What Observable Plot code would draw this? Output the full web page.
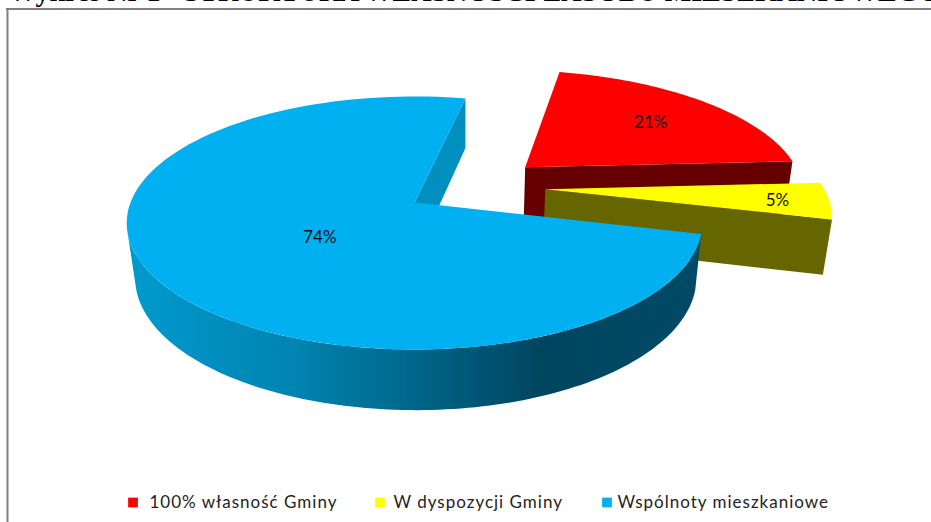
<!DOCTYPE html>
<html lang="pl">
<head>
<meta charset="utf-8">
<style>
html,body{margin:0;padding:0;background:#fff;overflow:hidden}
.legendText text{letter-spacing:1px}
</style>
<script src="https://cdn.jsdelivr.net/npm/d3@7"></script>
<script src="https://cdn.jsdelivr.net/npm/@observablehq/plot@0.6"></script>
</head>
<body>
<div id="chart"></div>
<script>
const categories = ["100% własność Gminy", "W dyspozycji Gminy", "Wspólnoty mieszkaniowe"];
const shares = [20.8, 4.8, 74.4];
const valueLabels = ["21%", "5%", "74%"];
const topColors = ["#FF0000", "#FFFF00", "#00B0F0"];
const wallColors = ["#660000", "#666600", "#0090C0"];
const titleText = "Wykres Nr 1 - STRUKTURA WŁASNOŚCI ZASOBU MIESZKANIOWEGO";

// camera of the tilted, exploded pie
const cam = {ox: 414, oy: 202, a: 284, b: 123.2, k: 0.162, m: 0.025, q: 1.25, c: 56};
const startAngle = -78, explode = 0.254;
const labelRadius = [0.69, 0.82, 0.408];
const labelTurn = [0, 0, -6.5];
const legendX = [127, 374, 601];
const legendGap = [22, 19, 16];
const frontWallEnd = 168;

const rad = d => d * Math.PI / 180;
function project(X, Y, Z) {
  const w = 1 - cam.k * Y + cam.m * Z;
  return {x: cam.ox + (cam.a * X + cam.q * Z) / w, y: cam.oy + (cam.b * Y + cam.c * Z) / w};
}
let acc = startAngle;
const slices = shares.map((v, i) => {
  const a0 = acc, a1 = acc + v * 3.6; acc = a1;
  return {i, a0, a1, mid: (a0 + a1) / 2};
});
const anchorSlice = slices[2];
slices.forEach(s => {
  s.cx = explode * (Math.cos(rad(s.mid)) - Math.cos(rad(anchorSlice.mid)));
  s.cy = explode * (Math.sin(rad(s.mid)) - Math.sin(rad(anchorSlice.mid)));
});
const rim = (s, a0, a1, Z) => d3.range(0, 121).map(j => {
  const t = rad(a0 + (a1 - a0) * j / 120);
  return project(s.cx + Math.cos(t), s.cy + Math.sin(t), Z);
});
const apexOf = (s, Z) => project(s.cx, s.cy, Z);
const edgeWall = (s, a) => {
  const t = rad(a);
  return [apexOf(s, 0), project(s.cx + Math.cos(t), s.cy + Math.sin(t), 0),
          project(s.cx + Math.cos(t), s.cy + Math.sin(t), 1), apexOf(s, 1)];
};
const poly = (pts, fill) => Plot.line(pts, {x: "x", y: "y", fill, stroke: "none", curve: "linear-closed"});
const topFace = s => [apexOf(s, 0), ...rim(s, s.a0, s.a1, 0)];

const [redSlice, yellowSlice, blueSlice] = slices;
const labelPts = slices.map(s => {
  const t = rad(s.mid + labelTurn[s.i]), r = labelRadius[s.i];
  return {...project(s.cx + r * Math.cos(t), s.cy + r * Math.sin(t), 0), text: valueLabels[s.i]};
});
const legendRows = categories.map((name, i) => ({name, x: legendX[i], gap: legendGap[i], color: topColors[i]}));

const gradient = () => {
  const defs = document.createElementNS("http://www.w3.org/2000/svg", "defs");
  defs.innerHTML = `<linearGradient id="blueWall" gradientUnits="userSpaceOnUse" x1="126" x2="700" y1="0" y2="0">
    <stop offset="0" stop-color="#009BCF"/><stop offset="0.3" stop-color="#0083B0"/>
    <stop offset="0.55" stop-color="#005F80"/><stop offset="0.72" stop-color="#004560"/>
    <stop offset="1" stop-color="#004A66"/></linearGradient>`;
  return defs;
};

const chart = Plot.plot({
  width: 931, height: 522,
  margin: 0,
  x: {domain: [0, 931], range: [0, 931], axis: null},
  y: {domain: [0, 522], range: [0, 522], axis: null},
  style: {background: "#fff", overflow: "hidden"},
  marks: [
    gradient,
    Plot.text([titleText], {x: 8, y: 0, text: d => d, textAnchor: "start", lineAnchor: "bottom",
      fontFamily: "Liberation Serif", fontWeight: "bold", fontSize: 28, fill: "#000"}),
    Plot.ruleX([7], {y1: 8, y2: 522, stroke: "#808080", strokeWidth: 2}),
    Plot.ruleY([8.5], {x1: 6, x2: 931, stroke: "#808080", strokeWidth: 2}),
    // red slice
    poly(edgeWall(redSlice, redSlice.a1), wallColors[0]),
    poly(topFace(redSlice), topColors[0]),
    // yellow slice
    poly(edgeWall(yellowSlice, yellowSlice.a1), wallColors[1]),
    poly(topFace(yellowSlice), topColors[1]),
    // blue slice
    poly(edgeWall(blueSlice, blueSlice.a1), wallColors[2]),
    poly([...rim(blueSlice, blueSlice.a0, frontWallEnd, 0), ...rim(blueSlice, blueSlice.a0, frontWallEnd, 1).reverse()], "url(#blueWall)"),
    poly(topFace(blueSlice), topColors[2]),
    Plot.text(labelPts, {x: "x", y: "y", dy: 2, text: "text", fontFamily: "Lato", fontSize: 17, fill: "#111"}),
    Plot.dot(legendRows, {x: d => d.x + 5.5, y: 502, r: 5.5, symbol: "square", fill: "color", stroke: "none"}),
    Plot.text(legendRows, {x: d => d.x + d.gap, y: 502, text: "name",
      textAnchor: "start", fontFamily: "Lato", fontSize: 17, fill: "#222", className: "legendText"})
  ]
});
document.getElementById("chart").appendChild(chart);
</script>
</body>
</html>
